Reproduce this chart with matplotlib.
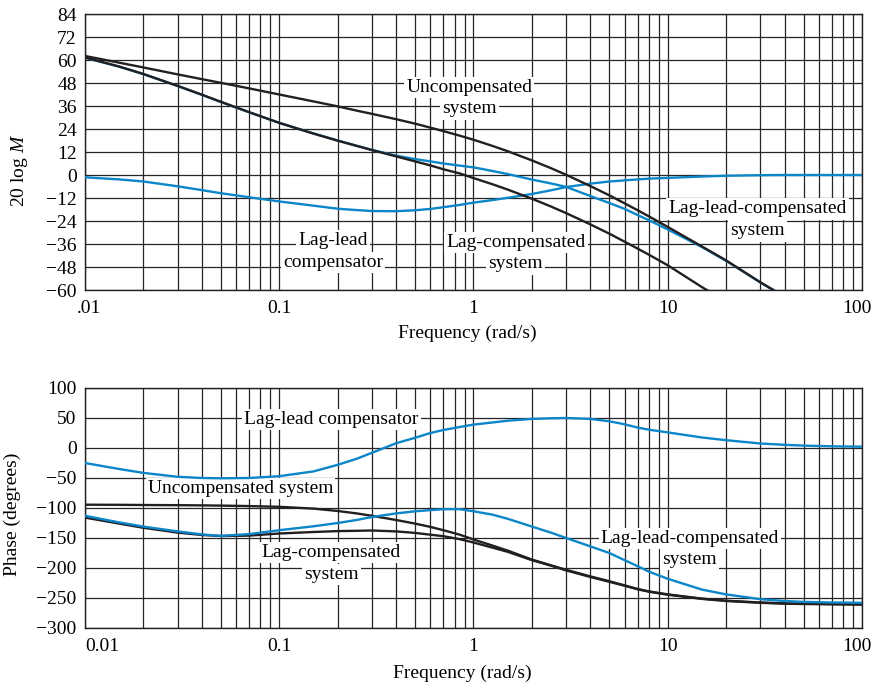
import numpy as np
import matplotlib.pyplot as plt
from matplotlib.ticker import LogLocator, NullFormatter
from matplotlib.transforms import ScaledTranslation

plt.rcParams['font.family'] = 'Liberation Serif'
plt.rcParams['mathtext.fontset'] = 'custom'
plt.rcParams['mathtext.rm'] = 'Liberation Serif'
plt.rcParams['mathtext.it'] = 'Liberation Serif:italic'

nan = np.nan

# frequencies (rad/s) at which the curves were read
freq = [0.01, 0.015, 0.02, 0.03, 0.04, 0.05, 0.07, 0.1, 0.15, 0.2, 0.25, 0.3, 0.4, 0.5, 0.6, 0.7,
        0.85, 1, 1.25, 1.5, 2, 2.5, 3, 4, 5, 6, 7, 8, 10, 15, 20, 30, 40, 50, 70, 100]

# magnitude, 20 log M (dB)
mag_uncomp = [62.1, 58.6, 56.1, 52.5, 50.0, 48.1, 45.2, 42.0, 38.4, 35.8, 33.6, 31.9, 29.1, 26.8, 24.7, 22.9,
              20.5, 18.4, 15.2, 12.4, 7.6, 3.6, 0.1, -5.8, -10.6, -14.8, -18.4, -21.6, -27.1, -37.3, -44.6,
              -56.0, -63.5, nan, nan, nan]
mag_lag = [61.3, 56.6, 52.7, 46.5, 41.9, 38.2, 32.8, 27.2, 21.6, 17.9, 15.2, 13.0, 9.7, 7.1, 5.0, 3.0,
           0.8, -1.6, -4.8, -7.6, -12.4, -16.4, -19.9, -25.8, -30.6, -34.8, -38.4, -41.6, -47.1, -58.5, -66.0,
           nan, nan, nan, nan, nan]
mag_comp = [-1.2, -2.3, -3.4, -5.9, -7.9, -9.5, -11.6, -13.8, -16.0, -17.6, -18.3, -18.8, -18.9, -18.4, -17.7, -16.8,
            -15.6, -14.4, -13.1, -11.9, -9.9, -8.0, -6.3, -4.5, -3.4, -2.8, -2.3, -1.9, -1.5, -0.8, -0.4,
            -0.1, 0.0, 0.0, 0.0, 0.0]
mag_laglead = [61.2, 56.5, 52.6, 46.4, 41.8, 38.1, 32.7, 27.2, 21.7, 18.0, 15.3, 13.1, 10.1, 8.3, 7.1, 6.0,
               4.9, 4.0, 2.1, 0.5, -2.4, -4.4, -6.2, -11.0, -14.6, -17.7, -20.9, -23.6, -28.4, -37.6, -44.8,
               -56.1, -63.6, nan, nan, nan]

# phase (degrees)
ph_uncomp = [-94.5, -94.7, -95.0, -95.3, -95.6, -96.0, -96.8, -98.0, -101, -105, -109, -113, -120, -126, -131.5, -137,
             -144.5, -152.5, -162.5, -171, -186, -195.5, -203, -214, -222, -229, -235, -239, -244, -251, -254.5,
             -257.5, -259, -259.5, -260, -260.5]
ph_lag = [-116, -126, -133, -141, -145, -146.7, -146, -142.5, -140, -138.5, -138, -137.5, -139, -141.5, -144.5, -147,
          -152, -157.5, -166, -173, -187, -196, -204, -215, -223, -229.5, -235.5, -239.5, -244.5, -251.5, -255,
          -258, -259.5, -260, -260.5, -261]
ph_comp = [-25, -35, -41.5, -48, -50, -50.5, -50, -47, -39, -28, -18, -8, 8, 17, 25, 30,
           35, 39, 42.5, 45.5, 48.5, 49.5, 50, 48.5, 44.5, 39.5, 34, 30.5, 26, 17.5, 13,
           7.5, 5.3, 4, 2.8, 2.2]
ph_laglead = [-113, -124, -131, -139, -144, -146.5, -143.5, -137, -130.5, -125, -120, -115, -109, -105.5, -103.5, -102,
              -102, -105.5, -111, -118, -131, -141, -150, -164, -175, -187, -197, -206, -218, -236, -244,
              -252, -255, -256.5, -257.5, -258]

mag_ticks = list(range(-60, 85, 12))
ph_ticks = list(range(-300, 101, 50))

blue = '#0b86c8'
black = '#231f20'
grid_col = '#262626'


def setup(ax, yticks, xlabels):
    ax.set_xscale('log')
    ax.set_xlim(0.01, 100)
    ax.set_ylim(yticks[0], yticks[-1])
    ax.set_xticks([0.01, 0.1, 1, 10, 100])
    ax.set_xticklabels(xlabels)
    ax.xaxis.set_minor_locator(LogLocator(base=10, subs=np.arange(2, 10) * 1.0, numticks=20))
    ax.xaxis.set_minor_formatter(NullFormatter())
    ax.set_yticks(yticks)
    ax.set_yticklabels([str(v).replace('-', '\u2212') for v in yticks])
    ax.tick_params(which='both', length=0, labelsize=14)
    ax.tick_params(axis='x', pad=7)
    ax.tick_params(axis='y', pad=6)
    ax.grid(True, which='major', color=grid_col, lw=0.9)
    ax.grid(True, which='minor', axis='x', color=grid_col, lw=0.9)
    ax.set_axisbelow(True)
    for s in ax.spines.values():
        s.set_color(black)
        s.set_linewidth(1.0)
    ticklabels = ax.get_xticklabels()
    ticklabels[0].set_horizontalalignment('left')
    last = ticklabels[-1]
    last.set_transform(last.get_transform() + ScaledTranslation(-5 / 100, 0, fig.dpi_scale_trans))


def label(ax, x, y, s):
    ax.text(x, y, s, ha='center', va='center', fontsize=14, zorder=3,
            bbox=dict(facecolor='white', edgecolor='none', pad=1.5))


fig = plt.figure(figsize=(8.73, 6.84), dpi=100)
ax1 = fig.add_axes([85 / 873, 1 - 290 / 684, 777 / 873, 276 / 684])
ax2 = fig.add_axes([85 / 873, 1 - 628 / 684, 777 / 873, 240 / 684])

setup(ax1, mag_ticks, ['.01', '0.1', '1', '10', '100'])
setup(ax2, ph_ticks, ['0.01', '0.1', '1', '10', '100'])
lab0 = ax1.get_xticklabels()[0]
lab0.set_transform(lab0.get_transform() + ScaledTranslation(-8 / 100, 0, fig.dpi_scale_trans))

# magnitude plot
ax1.plot(freq, mag_comp, color=blue, lw=1.7, zorder=4)
ax1.plot(freq, mag_laglead, color=blue, lw=1.7, zorder=4)
ax1.plot(freq, mag_uncomp, color=black, lw=1.7, zorder=5)
ax1.plot(freq, mag_lag, color=black, lw=1.7, zorder=5)

label(ax1, 0.95, 45.5, 'Uncompensated')
label(ax1, 0.95, 34.5, 'system')
label(ax1, 0.189, -34.4, 'Lag-lead')
label(ax1, 0.189, -45.6, 'compensator')
label(ax1, 1.65, -35.3, 'Lag-compensated')
label(ax1, 1.65, -46.4, 'system')
label(ax1, 29.0, -17.7, 'Lag-lead-compensated')
label(ax1, 29.0, -29.2, 'system')

# phase plot
ax2.plot(freq, ph_uncomp, color=black, lw=1.7, zorder=4)
ax2.plot(freq, ph_lag, color=black, lw=1.7, zorder=4)
ax2.plot(freq, ph_comp, color=blue, lw=1.7, zorder=5)
ax2.plot(freq, ph_laglead, color=blue, lw=1.7, zorder=5)

label(ax2, 0.186, 47.2, 'Lag-lead compensator')
label(ax2, 0.0632, -67.8, 'Uncompensated system')
label(ax2, 0.185, -174.5, 'Lag-compensated')
label(ax2, 0.185, -211, 'system')
label(ax2, 13.0, -151, 'Lag-lead-compensated')
label(ax2, 13.0, -186, 'system')

# axis titles
fig.text(20 / 873, 1 - 170 / 684, '20 log $M$', rotation=90, ha='center', va='center', fontsize=14)
fig.text(12.5 / 873, 1 - 514 / 684, 'Phase (degrees)', rotation=90, ha='center', va='center', fontsize=14)
fig.text(467.5 / 873, 1 - 333 / 684, 'Frequency (rad/s)', ha='center', va='center', fontsize=14)
fig.text(462.5 / 873, 1 - 673 / 684, 'Frequency (rad/s)', ha='center', va='center', fontsize=14)

fig.savefig('out.png', dpi=100)
